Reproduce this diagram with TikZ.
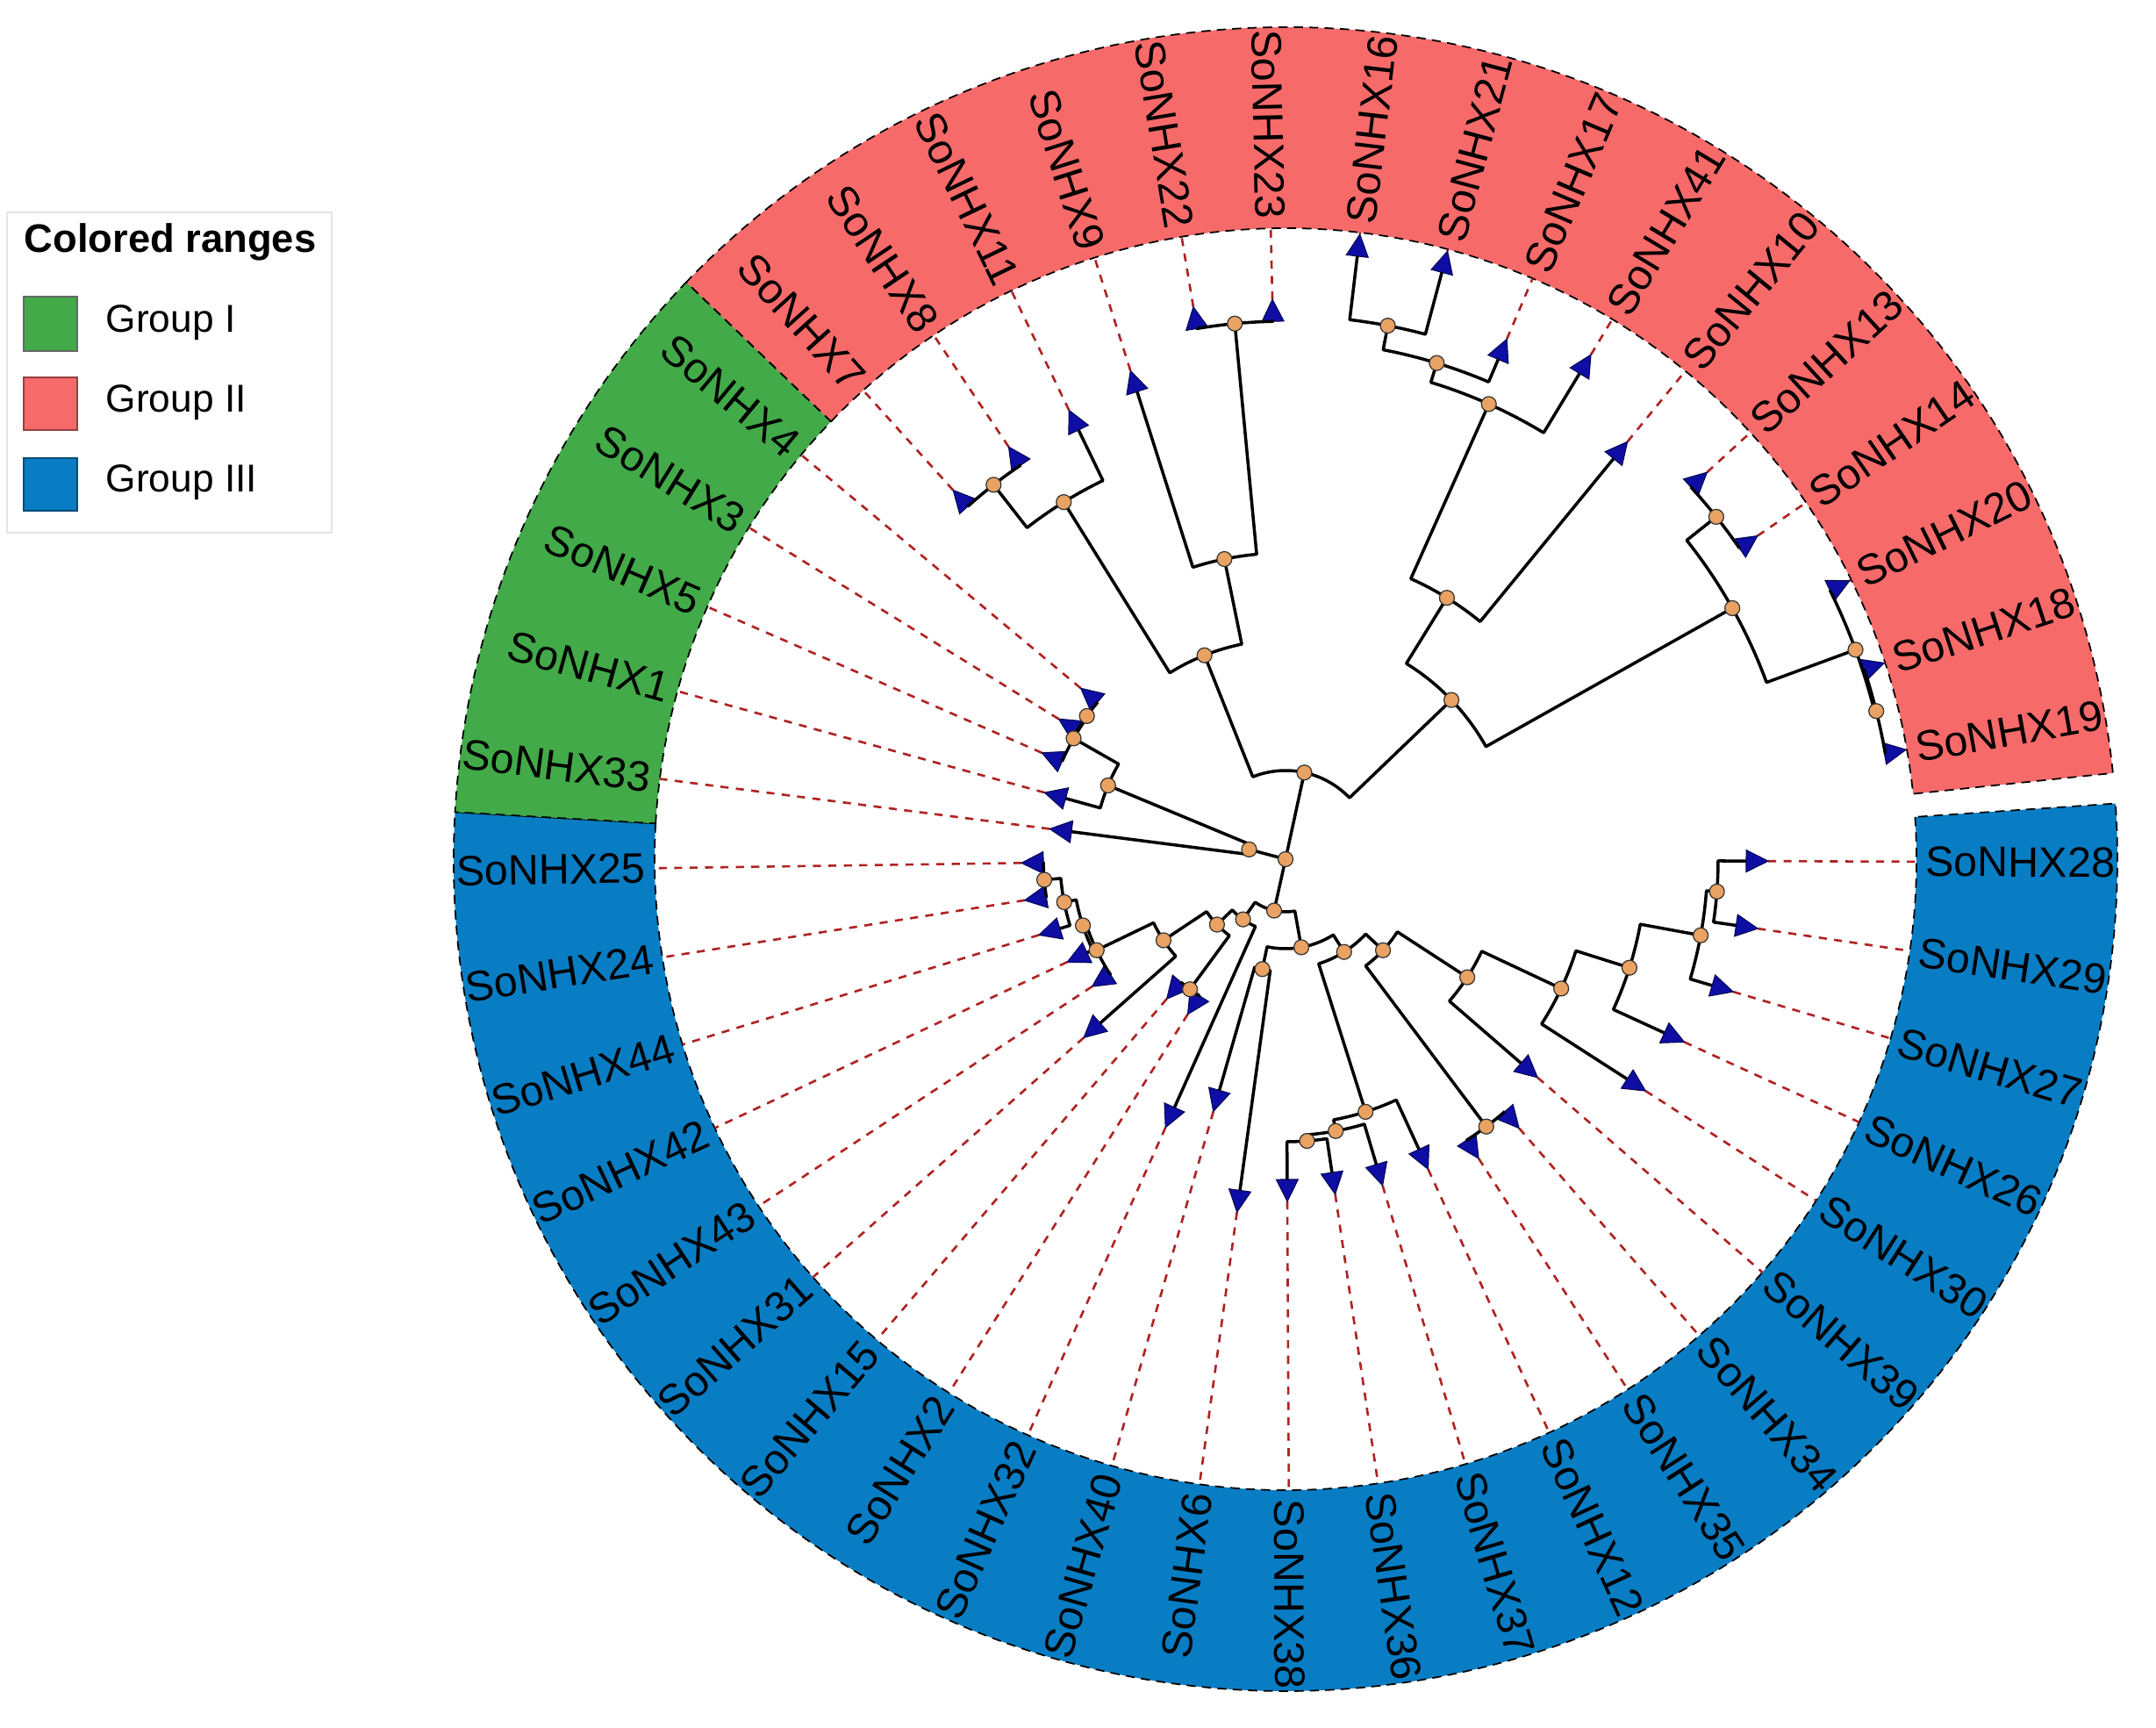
\documentclass[tikz,border=0pt]{standalone}
\usepackage{fontspec}
\setmainfont{Liberation Sans}
\definecolor{grpI}{RGB}{66,170,72}
\definecolor{grpII}{RGB}{246,106,106}
\definecolor{grpIII}{RGB}{8,125,196}
\definecolor{dotc}{RGB}{233,162,98}
\definecolor{tric}{RGB}{14,14,165}
\definecolor{dashc}{RGB}{175,35,35}
\tikzset{
 br/.style={line width=1pt, black, line join=round},
 dotn/.style={fill=dotc, draw=black!80, line width=0.35pt},
 tri/.style={fill=tric, draw=black!50!tric, line width=0.3pt},
 dsh/.style={draw=dashc, line width=0.75pt, dash pattern=on 2.6pt off 2.4pt},
 ringb/.style={draw=black, line width=0.5pt, dash pattern=on 3pt off 2pt},
 lab/.style={inner sep=0pt, font=\fontsize{13.8}{16}\selectfont},
 legtxt/.style={inner sep=0pt, anchor=west, font=\fontsize{12.6}{15}\selectfont},
}
\newcommand{\dn}[3]{\expandafter\xdef\csname a#1\endcsname{#2}\expandafter\xdef\csname r#1\endcsname{#3}\coordinate (#1) at (#2:#3);}
\newcommand{\kid}[2]{\draw[br] (#1) arc[start angle=\csname a#1\endcsname, end angle=\csname a#2\endcsname, radius=\csname r#1\endcsname] -- (#2);}
\newcommand{\leaf}[4]{%
  \pgfmathsetmacro{\ang}{-0.23-8.134*#2}%
  \ifnum#2>22 \pgfmathsetmacro{\ang}{\ang+360}\fi
  \expandafter\xdef\csname a#1\endcsname{\ang}%
  \expandafter\xdef\csname r#1\endcsname{#3}%
  \coordinate (#1) at (\ang:#3);
  \pgfmathsetmacro{\rt}{#3+0.25}%
  \draw[dsh] (\ang:\rt) -- (\ang:7.19);
  \filldraw[tri, rotate=\ang] (#3,0.125) -- (\rt,0) -- (#3,-0.125) -- cycle;
  \pgfmathtruncatemacro{\side}{cos(\ang)>0 ? 1 : 0}%
  \ifnum\side=1
    \node[lab, rotate=\ang, anchor=west] (lbl#1) at (\ang:7.29) {#4};
  \else
    \node[lab, rotate=\ang+180, anchor=east] (lbl#1) at (\ang:7.29) {#4};
  \fi
}
\begin{document}
\begin{tikzpicture}
\useasboundingbox (0,0) rectangle (24.57,19.68);
% legend
\draw[draw=gray!20, fill=white] (0.08,13.61) rectangle (3.78,17.26);
\node[inner sep=0pt, anchor=west, font=\bfseries\fontsize{12.9}{15}\selectfont] (legtitle) at (0.27,16.92) {Colored ranges};
\filldraw[fill=grpI, draw=black!60, line width=0.4pt] (0.27,15.68) rectangle (0.88,16.30);
\filldraw[fill=grpII, draw=black!40!grpII, line width=0.4pt] (0.27,14.78) rectangle (0.88,15.38);
\filldraw[fill=grpIII, draw=black!40!grpIII, line width=0.4pt] (0.27,13.86) rectangle (0.88,14.46);
\node[legtxt] (leg1) at (1.20,16.005) {Group I};
\node[legtxt] (leg2) at (1.20,15.09) {Group II};
\node[legtxt] (leg3) at (1.20,14.18) {Group III};

\begin{scope}[shift={(14.65,9.89)}]
% ring
\filldraw[fill=grpIII, ringb] (3.837:7.19) arc[start angle=3.837, end angle=-183.245, radius=7.19] -- (-183.245:9.48) arc[start angle=-183.245, end angle=3.837, radius=9.48] -- cycle;
\filldraw[fill=grpI, ringb] (176.755:7.19) arc[start angle=176.755, end angle=136.085, radius=7.19] -- (136.085:9.48) arc[start angle=136.085, end angle=176.755, radius=9.48] -- cycle;
\filldraw[fill=grpII, ringb] (136.085:7.19) arc[start angle=136.085, end angle=5.941, radius=7.19] -- (5.941:9.48) arc[start angle=5.941, end angle=136.085, radius=9.48] -- cycle;

% internal nodes
\dn{B}{0}{0}
\dn{A}{77.75}{1.01}
\dn{D}{165.06}{0.43}
\dn{C}{-102.52}{0.60}
\dn{H}{111.683}{2.50}
\dn{N}{43.816}{2.62}
\dn{I}{121.85}{4.79}
\dn{L}{127.951}{5.41}
\dn{J}{101.516}{3.49}
\dn{K}{95.415}{6.13}
\dn{M}{58.304}{3.50}
\dn{R}{65.93}{5.68}
\dn{Q}{73.047}{5.91}
\dn{P}{79.147}{6.19}
\dn{T}{29.327}{5.84}
\dn{U}{38.477}{6.27}
\dn{W}{20.176}{6.92}
\dn{X}{14.075}{6.94}
\dn{E}{157.437}{2.19}
\dn{F}{150.32}{2.78}
\dn{G}{144.219}{2.79}
\dn{C1}{-125.227}{0.84}
\dn{C1a}{-136.348}{1.08}
\dn{C1b}{-126.307}{1.84}
\dn{C1c}{-146.388}{1.67}
\dn{C1d}{-154.268}{2.39}
\dn{C1e}{-161.893}{2.43}
\dn{C1f}{-169.01}{2.57}
\dn{C1g}{-175.111}{2.76}
\dn{C2}{-79.82}{1.02}
\dn{C2a}{-101.905}{1.28}
\dn{C2b}{-57.74}{1.25}
\dn{Z}{-72.42}{3.02}
\dn{Z1}{-79.537}{3.15}
\dn{Z2}{-85.637}{3.22}
\dn{C3}{-43.06}{1.52}
\dn{Y}{-53.101}{3.81}
\dn{C4}{-33.02}{2.47}
\dn{C5}{-25.14}{3.47}
\dn{C6}{-17.515}{4.11}
\dn{C7}{-10.398}{4.81}
\dn{C8}{-4.297}{4.93}

% leaves
\leaf{L28}{0}{5.25}{SoNHX28}
\leaf{L29}{1}{5.19}{SoNHX29}
\leaf{L27}{2}{5.07}{SoNHX27}
\leaf{L26}{3}{4.75}{SoNHX26}
\leaf{L30}{4}{4.63}{SoNHX30}
\leaf{L39}{5}{3.55}{SoNHX39}
\leaf{L34}{6}{3.81}{SoNHX34}
\leaf{L35}{7}{3.81}{SoNHX35}
\leaf{L12}{8}{3.64}{SoNHX12}
\leaf{L37}{9}{3.63}{SoNHX37}
\leaf{L36}{10}{3.61}{SoNHX36}
\leaf{L38}{11}{3.65}{SoNHX38}
\leaf{L6}{12}{3.81}{SoNHX6}
\leaf{L40}{13}{2.74}{SoNHX40}
\leaf{L32}{14}{3.10}{SoNHX32}
\leaf{L2}{15}{1.84}{SoNHX2}
\leaf{L15}{16}{1.84}{SoNHX15}
\leaf{L31}{17}{2.82}{SoNHX31}
\leaf{L43}{18}{2.39}{SoNHX43}
\leaf{L42}{19}{2.50}{SoNHX42}
\leaf{L44}{20}{2.69}{SoNHX44}
\leaf{L24}{21}{2.76}{SoNHX24}
\leaf{L25}{22}{2.76}{SoNHX25}
\leaf{L33}{23}{2.46}{SoNHX33}
\leaf{L1}{24}{2.60}{SoNHX1}
\leaf{L5}{25}{2.78}{SoNHX5}
\leaf{L3}{26}{2.79}{SoNHX3}
\leaf{L4}{27}{2.79}{SoNHX4}
\leaf{L7}{28}{5.41}{SoNHX7}
\leaf{L8}{29}{5.41}{SoNHX8}
\leaf{L11}{30}{5.43}{SoNHX11}
\leaf{L9}{31}{5.59}{SoNHX9}
\leaf{L22}{32}{6.13}{SoNHX22}
\leaf{L23}{33}{6.13}{SoNHX23}
\leaf{L16}{34}{6.92}{SoNHX16}
\leaf{L21}{35}{6.92}{SoNHX21}
\leaf{L17}{36}{6.19}{SoNHX17}
\leaf{L41}{37}{6.47}{SoNHX41}
\leaf{L10}{38}{5.90}{SoNHX10}
\leaf{L13}{39}{6.27}{SoNHX13}
\leaf{L14}{40}{6.27}{SoNHX14}
\leaf{L20}{41}{6.92}{SoNHX20}
\leaf{L18}{42}{6.93}{SoNHX18}
\leaf{L19}{43}{6.93}{SoNHX19}

% branches
\draw[br] (B) -- (A);
\draw[br] (B) -- (D);
\draw[br] (B) -- (C);
\kid{A}{H} \kid{A}{N}
\kid{H}{I} \kid{H}{J}
\kid{I}{L} \kid{I}{L11}
\kid{L}{L7} \kid{L}{L8}
\kid{J}{L9} \kid{J}{K}
\kid{K}{L22} \kid{K}{L23}
\kid{N}{M} \kid{N}{T}
\kid{M}{R} \kid{M}{L10}
\kid{R}{Q} \kid{R}{L41}
\kid{Q}{P} \kid{Q}{L17}
\kid{P}{L16} \kid{P}{L21}
\kid{T}{U} \kid{T}{W}
\kid{U}{L13} \kid{U}{L14}
\kid{W}{L20} \kid{W}{X}
\kid{X}{L18} \kid{X}{L19}
\kid{D}{L33} \kid{D}{E}
\kid{E}{L1} \kid{E}{F}
\kid{F}{L5} \kid{F}{G}
\kid{G}{L3} \kid{G}{L4}
\kid{C}{C1} \kid{C}{C2}
\kid{C1}{L32} \kid{C1}{C1a}
\kid{C1a}{C1b} \kid{C1a}{C1c}
\kid{C1b}{L2} \kid{C1b}{L15}
\kid{C1c}{L31} \kid{C1c}{C1d}
\kid{C1d}{L43} \kid{C1d}{C1e}
\kid{C1e}{L42} \kid{C1e}{C1f}
\kid{C1f}{L44} \kid{C1f}{C1g}
\kid{C1g}{L24} \kid{C1g}{L25}
\kid{C2}{C2a} \kid{C2}{C2b}
\kid{C2a}{L6} \kid{C2a}{L40}
\kid{C2b}{Z} \kid{C2b}{C3}
\kid{Z}{Z1} \kid{Z}{L12}
\kid{Z1}{Z2} \kid{Z1}{L37}
\kid{Z2}{L38} \kid{Z2}{L36}
\kid{C3}{Y} \kid{C3}{C4}
\kid{Y}{L34} \kid{Y}{L35}
\kid{C4}{L39} \kid{C4}{C5}
\kid{C5}{L30} \kid{C5}{C6}
\kid{C6}{L26} \kid{C6}{C7}
\kid{C7}{L27} \kid{C7}{C8}
\kid{C8}{L28} \kid{C8}{L29}

% node dots
\foreach \n in {B,A,D,C,H,N,I,L,J,K,M,R,Q,P,T,U,W,X,E,F,G,C1,C1a,C1b,C1c,C1d,C1e,C1f,C1g,C2,C2a,C2b,Z,Z1,Z2,C3,Y,C4,C5,C6,C7,C8}
  \filldraw[dotn] (\n) circle (0.085);
\end{scope}
\end{tikzpicture}
\end{document}
